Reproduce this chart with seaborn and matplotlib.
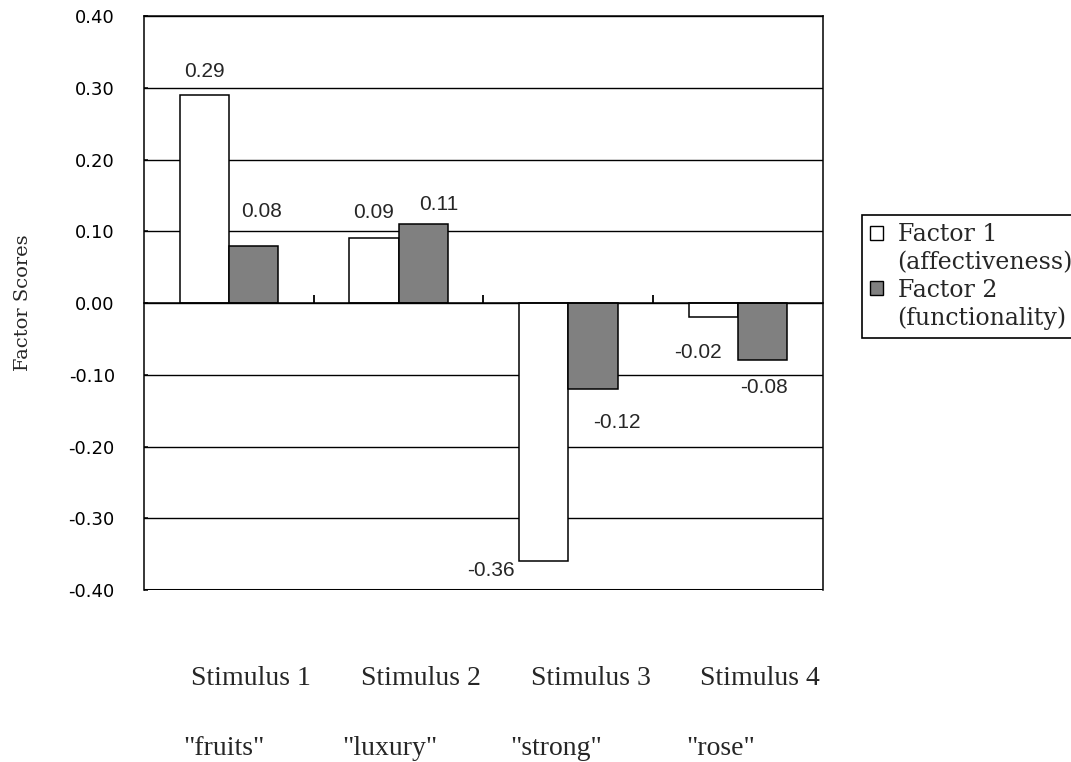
#!/usr/bin/env python3

import pandas as pd
import matplotlib
matplotlib.use('Agg')
import matplotlib.pyplot as plt
import matplotlib.transforms as mtransforms
from matplotlib.patches import Patch
import seaborn as sns

# Values
stimuli = ['Stimulus 1', 'Stimulus 2', 'Stimulus 3', 'Stimulus 4']
words = ['"fruits"', '"luxury"', '"strong"', '"rose"']
factor1 = [0.29, 0.09, -0.36, -0.02]
factor2 = [0.08, 0.11, -0.12, -0.08]
factor_names = ['Factor 1', 'Factor 2']
factor_desc = ['(affectiveness)', '(functionality)']
y_ticks = [-0.40, -0.30, -0.20, -0.10, 0.00, 0.10, 0.20, 0.30, 0.40]

# Layout only: label offsets (points) from the bar ends, as placed in the original
offsets1 = [(0, 17), (0, 19), (-38, -6.5), (-11, -25)]
offsets2 = [(6, 24.5), (11.5, 14), (17, -24), (1, -19.5)]
stim_shift = 0.13
word_shift = [-0.03, -0.05, -0.07, -0.10]

colors = ['white', '#808080']


def build_frame():
    rows = []
    for name, vals in zip(factor_names, [factor1, factor2]):
        for s, v in zip(stimuli, vals):
            rows.append({'stimulus': s, 'factor': name, 'score': v})
    return pd.DataFrame(rows)


def main():
    sns.set_style('white')
    plt.rcParams['axes.unicode_minus'] = False

    df = build_frame()

    fig = plt.figure(figsize=(10.71, 7.62), dpi=100)
    ax = fig.add_axes([0.13445, 0.22572, 0.63399, 0.75328])

    sns.barplot(data=df, x='stimulus', y='score', hue='factor', order=stimuli,
                hue_order=factor_names, palette=colors, edgecolor='black',
                linewidth=1.1, width=0.58, legend=False, saturation=1, ax=ax)

    ax.set_ylim(-0.4, 0.4)
    ax.set_xlim(-0.5, len(stimuli) - 0.5)
    ax.set_axisbelow(True)

    # horizontal grid in black
    ax.set_yticks(y_ticks)
    ax.set_yticklabels([f'{t:.2f}' for t in y_ticks], family='DejaVu Sans', fontsize=13)
    ax.yaxis.grid(True, color='black', linewidth=1.0)
    ax.xaxis.grid(False)
    ax.tick_params(axis='y', left=True, direction='in', length=3, width=1.1, pad=21,
                   colors='black')

    # x axis crosses at zero, ticks between the groups
    ax.spines['bottom'].set_position(('data', 0))
    ax.set_xticks([i + 0.5 for i in range(len(stimuli) - 1)])
    ax.set_xticklabels([])
    ax.tick_params(axis='x', bottom=True, direction='in', length=6, width=1.3,
                   colors='black')
    for side in ['left', 'right', 'top', 'bottom']:
        ax.spines[side].set_color('black')
        ax.spines[side].set_linewidth(1.1)
    ax.axhline(-0.4, color='black', linewidth=2.2, clip_on=True)

    ax.set_xlabel('')
    ax.set_ylabel('Factor Scores', family='DejaVu Serif', fontsize=14)
    ax.yaxis.set_label_coords(-0.165, 0.5)

    # value labels
    for container, vals, offs in zip(ax.containers, [factor1, factor2], [offsets1, offsets2]):
        for bar, v, (dx, dy) in zip(container, vals, offs):
            xc = bar.get_x() + bar.get_width() / 2
            ax.annotate(f'{v:.2f}', xy=(xc, v), xytext=(dx, dy),
                        textcoords='offset points', ha='center', va='center',
                        family='Liberation Sans', fontsize=15)

    # category captions, two rows under the plot
    trans = mtransforms.blended_transform_factory(ax.transData, ax.transAxes)
    for i, (s, w) in enumerate(zip(stimuli, words)):
        ax.text(i + stim_shift, -0.155, s, transform=trans, ha='center', va='center',
                family='Liberation Serif', fontsize=20)
        ax.text(i + word_shift[i], -0.277, w, transform=trans, ha='center', va='center',
                family='Liberation Serif', fontsize=20)

    # legend: square sits beside the first line of each entry
    blank = Patch(facecolor='none', edgecolor='none')
    handles = [Patch(facecolor=colors[0], edgecolor='black', linewidth=1.0), blank,
               Patch(facecolor=colors[1], edgecolor='black', linewidth=1.0), blank]
    labels = [factor_names[0], factor_desc[0], factor_names[1], factor_desc[1]]
    leg = fig.legend(handles, labels, loc='upper left', bbox_to_anchor=(0.805, 0.718),
                     prop={'family': 'DejaVu Serif', 'size': 17}, frameon=True,
                     fancybox=False, edgecolor='black', framealpha=1,
                     borderpad=0.35, borderaxespad=0, handlelength=0.55,
                     handleheight=0.55, handletextpad=0.6, labelspacing=0.2)
    leg.get_frame().set_linewidth(1.2)

    fig.savefig('out.png', dpi=100, facecolor='white')
    plt.close(fig)


if __name__ == '__main__':
    main()
